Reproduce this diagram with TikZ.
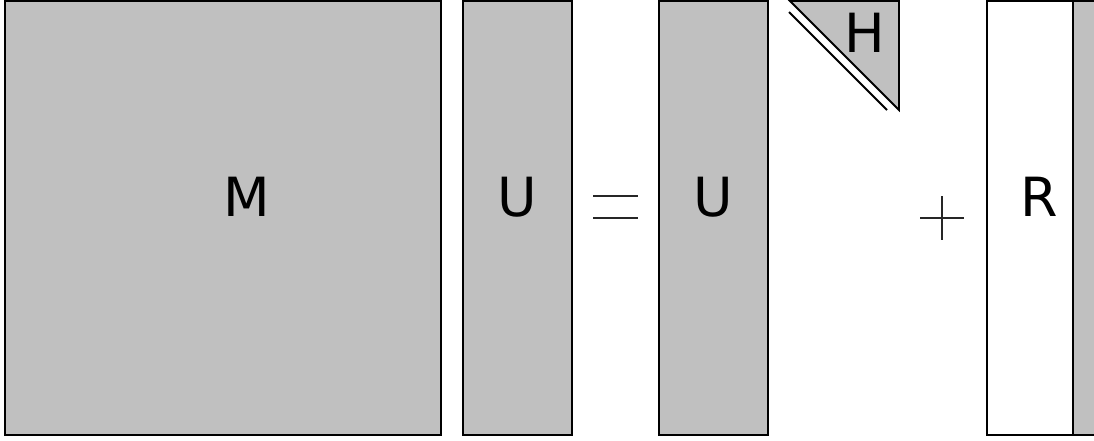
\documentclass[tikz,border=0pt]{standalone}
\usepackage{fontspec}
\setmainfont{DejaVu Sans}
\definecolor{boxgray}{HTML}{C0C0C0}
\tikzset{
  mat/.style={draw=black, fill=boxgray, line width=2.2pt},
  matw/.style={draw=black, fill=white, line width=2.2pt},
  lbl/.style={font=\fontsize{54}{58}\selectfont, inner sep=0pt, anchor=center},
  op/.style={draw=black!85, line width=1.6pt},
}
\begin{document}
\begin{tikzpicture}[x=1pt,y=-1pt]
\useasboundingbox (0,0) rectangle (1094,441);
\clip (0,0) rectangle (1094,441);
% M
\draw[mat] (5,1) rectangle (441,435);
\node[lbl] (M) at (247,197) {M};
% U left
\draw[mat] (463,1) rectangle (572,435);
\node[lbl] (U1) at (517,197) {U};
% equals
\coordinate (e1a) at (593,196); \coordinate (e1b) at (638,196);
\coordinate (e2a) at (593,218); \coordinate (e2b) at (638,218);
\draw[op] (e1a) -- (e1b);
\draw[op] (e2a) -- (e2b);
% U right
\draw[mat] (659,1) rectangle (768,435);
\node[lbl] (U2) at (713,197) {U};
% H triangle
\draw[mat, line width=1.8pt, line join=miter] (790,1) -- (899,1) -- (899,110) -- cycle;
\draw[black, line width=1.8pt] (789,12) -- (887,110);
\node[lbl] (H) at (865,33) {H};
% plus
\coordinate (ph1) at (920,218); \coordinate (ph2) at (964,218);
\coordinate (pv1) at (942,196); \coordinate (pv2) at (942,240);
\draw[op] (ph1) -- (ph2);
\draw[op] (pv1) -- (pv2);
% R
\draw[mat] (1073,1) rectangle (1110,435);
\draw[matw] (987,1) rectangle (1073,435);
\node[lbl] (R) at (1039,197) {R};
\end{tikzpicture}
\end{document}
